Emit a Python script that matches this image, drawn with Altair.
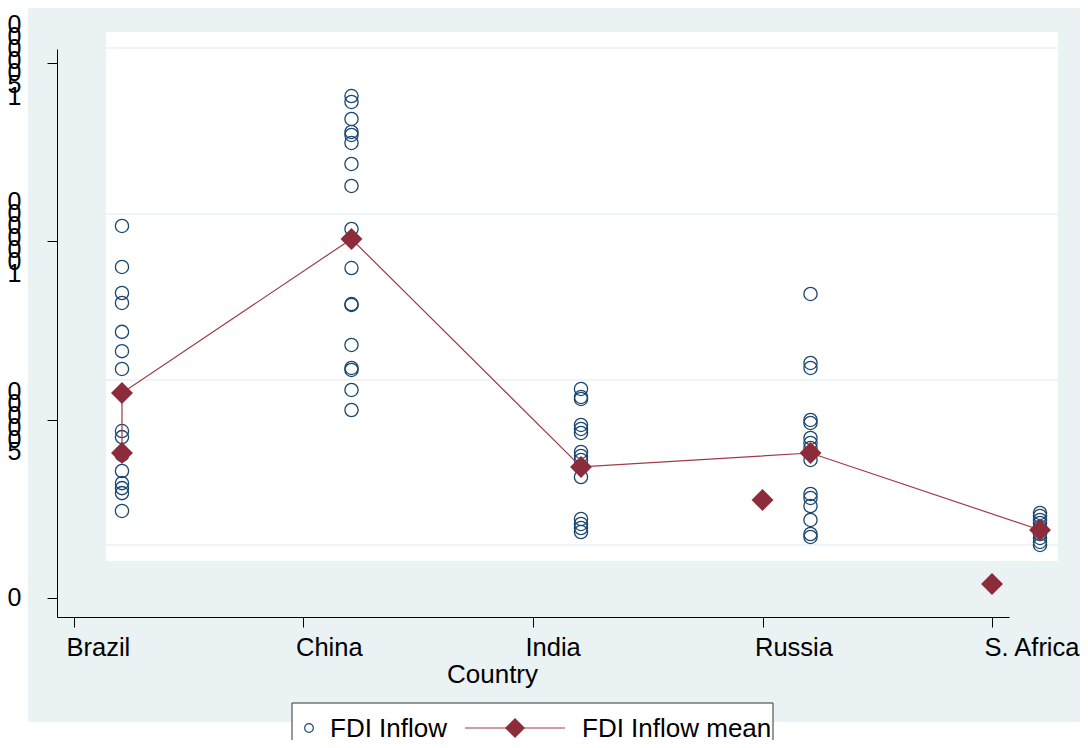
import altair as alt
import pandas as pd

countries = ["Brazil", "China", "India", "Russia", "S. Africa"]

brazil = [1043000, 928000, 855000, 827000, 746000, 692000, 642000, 468000,
          451000, 401000, 356000, 322000, 308000, 294000, 244000]
china = [1407000, 1390500, 1343000, 1306500, 1298000, 1275600, 1216700, 1155000,
         1034500, 925000, 824000, 821500, 709300, 644800, 639200, 583100, 527000]
india = [585900, 563500, 557900, 485000, 473800, 462600, 409300, 398100,
         386900, 339200, 221500, 207500, 196200, 185000]
russia = [852300, 658800, 644800, 499000, 490600, 448600, 434500, 420500,
          386900, 291600, 280400, 257900, 218700, 179400, 171000]
safrica = [238300, 229900, 218700, 210300, 199000, 190600, 179400, 168200,
           157000, 148600]

mean_country = ["Brazil", "Brazil", "China", "India", "Russia", "S. Africa"]
mean_value = [406500, 574700, 1006500, 367300, 406500, 190600]

stray_country = ["Russia", "S. Africa"]
stray_value = [274700, 39200]

y_ticks = [0, 500000, 1000000, 1500000]

# ---- tables ----
rows = []
for c, vals in zip(countries, [brazil, china, india, russia, safrica]):
    for v in vals:
        rows.append({"idx": countries.index(c) + 1, "value": v})
obs = pd.DataFrame(rows)
means = pd.DataFrame({"idx": [countries.index(c) + 1 for c in mean_country],
                      "value": mean_value, "order": list(range(len(mean_value)))})
stray = pd.DataFrame({"idx": [countries.index(c) + 1 for c in stray_country],
                      "value": stray_value})

FONT = "Liberation Sans"
NAVY = "#1A476F"
RED = "#8C2C3A"
BG = "#EAF2F3"

label_arr = "[" + ",".join("'" + c + "'" for c in countries) + "]"

xscale = alt.Scale(domain=[0.926, 5.074], nice=False, zero=False)
yscale = alt.Scale(domain=[-53300, 1539000], nice=False, zero=False)

xaxis = alt.Axis(values=[1, 2, 3, 4, 5], labelExpr=label_arr + "[datum.value-1]",
                 title="Country", grid=False, domainColor="black", tickColor="black",
                 tickSize=10, labelFontSize=25.5, labelFont=FONT, labelColor="black",
                 labelAlign="left", labelOffset=-8, labelPadding=8,
                 titleFont=FONT, titleFontSize=26,
                 titleFontWeight="normal", titleColor="black", titleX=435, titleY=57,
                 titleBaseline="middle", titleAlign="center", zindex=1,
                 labelFlush=False, labelOverlap=False)
yaxis = alt.Axis(values=y_ticks, labelExpr="reverse(split(format(datum.value,'d'),''))",
                 title=None, grid=False, domainColor="black", tickColor="black",
                 tickSize=10, labelFontSize=25, labelFont=FONT, labelColor="black",
                 labelAlign="center", labelBaseline="middle", labelLineHeight=12,
                 labelPadding=33, zindex=1, labelOverlap=False,
                 labelOffset={"condition": [
                     {"test": "datum.value == 1500000", "value": -38},
                     {"test": "datum.value == 1000000", "value": -40},
                     {"test": "datum.value == 500000", "value": -28}],
                     "value": 0})

one = pd.DataFrame({"d": [0]})

gray = alt.Chart(one).mark_rect(color=BG).encode(
    x=alt.value(-29), x2=alt.value(1031), y=alt.value(-42), y2=alt.value(673))
white = alt.Chart(one).mark_rect(color="white").encode(
    x=alt.value(49), x2=alt.value(1001), y=alt.value(-17), y2=alt.value(512))
grids = [alt.Chart(one).mark_rule(color=BG, strokeWidth=1.5).encode(
    x=alt.value(49), x2=alt.value(1001), y=alt.value(gy)) for gy in [-1, 165, 331, 496]]

circles = alt.Chart(obs).mark_point(shape="circle", filled=False, size=175,
                                    strokeWidth=1.3, color=NAVY, opacity=1,
                                    xOffset=48).encode(
    x=alt.X("idx:Q", scale=xscale, axis=xaxis),
    y=alt.Y("value:Q", scale=yscale, axis=yaxis))

line = alt.Chart(means).mark_line(color="#9E3B47", strokeWidth=1.2, xOffset=48).encode(
    x=alt.X("idx:Q", scale=xscale), y=alt.Y("value:Q", scale=yscale),
    order="order:Q")
mean_pts = alt.Chart(means).mark_point(shape="diamond", filled=True, size=480,
                                       color=RED, opacity=1, xOffset=48).encode(
    x=alt.X("idx:Q", scale=xscale), y=alt.Y("value:Q", scale=yscale))
stray_pts = alt.Chart(stray).mark_point(shape="diamond", filled=True, size=480,
                                        color=RED, opacity=1).encode(
    x=alt.X("idx:Q", scale=xscale), y=alt.Y("value:Q", scale=yscale))

# ---- legend (drawn by hand) ----
leg_box = alt.Chart(one).mark_rect(fill="white", stroke="#333333", strokeWidth=1).encode(
    x=alt.value(235), x2=alt.value(716), y=alt.value(654), y2=alt.value(720))
leg_c = alt.Chart(one).mark_point(shape="circle", filled=False, size=75, color=NAVY,
                                  strokeWidth=1.2, opacity=1).encode(
    x=alt.value(252), y=alt.value(679))
leg_t1 = alt.Chart(one).mark_text(align="left", baseline="middle", font=FONT,
                                  fontSize=26, color="black").encode(
    x=alt.value(273), y=alt.value(680), text=alt.value("FDI Inflow"))
leg_l = alt.Chart(one).mark_rule(color="#9E3B47", strokeWidth=1.2).encode(
    x=alt.value(408), x2=alt.value(508), y=alt.value(679))
leg_d = alt.Chart(one).mark_point(shape="diamond", filled=True, size=400, color=RED,
                                  opacity=1).encode(x=alt.value(458), y=alt.value(679))
leg_t2 = alt.Chart(one).mark_text(align="left", baseline="middle", font=FONT,
                                  fontSize=26, color="black").encode(
    x=alt.value(525), y=alt.value(680), text=alt.value("FDI Inflow mean"))

chart = alt.layer(gray, white, *grids, circles, line, mean_pts, stray_pts,
                  leg_box, leg_c, leg_t1, leg_l, leg_d, leg_t2).properties(
    width=952, height=568,
    padding={"left": 49, "top": 41, "right": 71, "bottom": 123},
    autosize=alt.AutoSizeParams(type="none"),
    background="white",
).configure_view(stroke=None)

chart.save("out.html", embed_options={"renderer": "svg", "actions": False})
